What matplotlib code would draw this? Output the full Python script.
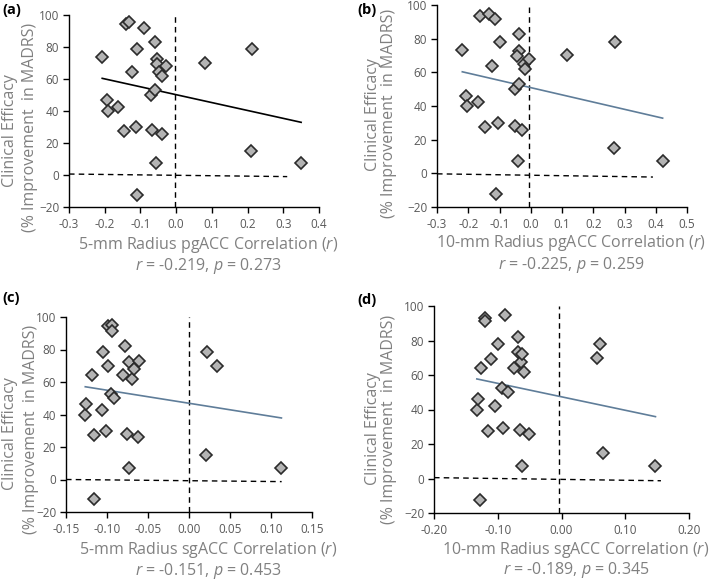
import numpy as np
import matplotlib
matplotlib.use("Agg")
from matplotlib import pyplot as plt

plt.rcParams['font.family'] = ['Open Sans', 'DejaVu Sans']
plt.rcParams['mathtext.fontset'] = 'custom'
plt.rcParams['mathtext.it'] = 'Open Sans:italic'
plt.rcParams['mathtext.rm'] = 'Open Sans'

# improvement in MADRS (%), same patients in every panel
y_a = [73.5, 46.8, 40.1, 42.4, 27.4, 94.2, 95.4, 64.1, 29.9, 78.5, -12.3, 91.7, 50.1, 28.2,
       82.9, 53.3, 7.3, 72.3, 69.6, 64.6, 61.8, 25.9, 68.3, 70.2, 78.5, 14.7, 7.3]
x_a = [-0.207, -0.194, -0.190, -0.162, -0.146, -0.140, -0.132, -0.124, -0.112, -0.110, -0.111,
       -0.091, -0.071, -0.067, -0.060, -0.058, -0.056, -0.055, -0.055, -0.047, -0.041, -0.041,
       -0.029, 0.082, 0.211, 0.209, 0.350]

x_b = [-0.219, -0.206, -0.204, -0.168, -0.148, -0.161, -0.133, -0.113, -0.123, -0.100, -0.105,
       -0.110, -0.052, -0.052, -0.039, -0.039, -0.043, -0.037, -0.041, -0.029, -0.023, -0.020,
       -0.007, 0.117, 0.270, 0.267, 0.422]
y_b = [73.3, 46.1, 40.0, 42.2, 27.3, 93.7, 94.7, 91.5, 63.8, 78.0, 29.7, -12.3, 50.1, 27.9,
       82.6, 72.5, 69.7, 52.9, 7.1, 25.7, 65.0, 62.0, 67.7, 70.1, 78.2, 15.2, 7.1]

x_c = [-0.1265, -0.1256, -0.1187, -0.1159, -0.1155, -0.1062, -0.1045, -0.1013, -0.0984, -0.0988,
       -0.0944, -0.0936, -0.0952, -0.0919, -0.0810, -0.0781, -0.0753, -0.0737, -0.0729, -0.0700,
       -0.0672, -0.0623, -0.0611, 0.0217, 0.0347, 0.0209, 0.1127]
y_c = [40.0, 46.2, 64.2, 27.4, -12.3, 42.5, 78.5, 29.9, 69.6, 94.2, 95.2, 91.3, 52.6, 49.9,
       64.6, 82.4, 28.0, 72.3, 6.9, 61.9, 68.1, 25.9, 73.1, 78.3, 70.0, 14.8, 6.9]

x_d = [-0.1328, -0.1313, -0.1266, -0.1281, -0.1198, -0.1193, -0.1156, -0.1099, -0.1042, -0.0990,
       -0.0927, -0.0917, -0.0880, -0.0839, -0.0745, -0.0677, -0.0677, -0.0651, -0.0641, -0.0615,
       -0.0620, -0.0589, -0.0505, 0.0557, 0.0599, 0.0646, 0.1474]
y_d = [40.0, 46.0, 63.8, -12.3, 92.8, 91.3, 27.4, 69.4, 42.3, 78.1, 52.4, 29.5, 94.8, 50.1,
       64.2, 82.0, 73.3, 28.0, 67.7, 72.3, 7.1, 61.9, 25.9, 70.0, 78.1, 15.0, 7.1]

labels = ["(a)", "(b)", "(c)", "(d)"]
xlabels = ["5-mm Radius pgACC Correlation ($\\it{r}$)", "10-mm Radius pgACC Correlation ($\\it{r}$)",
           "5-mm Radius sgACC Correlation ($\\it{r}$)", "10-mm Radius sgACC Correlation ($\\it{r}$)"]
stats = ["$\\it{r}$ = -0.219, $\\it{p}$ = 0.273", "$\\it{r}$ = -0.225, $\\it{p}$ = 0.259",
         "$\\it{r}$ = -0.151, $\\it{p}$ = 0.453", "$\\it{r}$ = -0.189, $\\it{p}$ = 0.345"]
xticks_list = [[-0.3, -0.2, -0.1, 0.0, 0.1, 0.2, 0.3, 0.4],
               [-0.3, -0.2, -0.1, 0.0, 0.1, 0.2, 0.3, 0.4, 0.5],
               [-0.15, -0.10, -0.05, 0.00, 0.05, 0.10, 0.15],
               [-0.20, -0.10, 0.00, 0.10, 0.20]]
xfmt = ["{:.1f}", "{:.1f}", "{:.2f}", "{:.2f}"]
yticks = [-20, 0, 20, 40, 60, 80, 100]
# dashed reference lines: vertical x, horizontal end x, horizontal y at start/end
vline_x = [-0.004, -0.006, -0.0006, -0.0036]
hline_end = [0.311, 0.391, 0.113, 0.156]
hline_y = [(0.6, -1.0), (-0.3, -2.2), (0.0, -1.3), (0.5, -1.3)]
fit_color = ["black", "#5f7d99", "#5f7d99", "#5f7d99"]

W, H = 709, 581
# axes boxes in pixels: left, right, top, bottom
boxes = [(69, 319, 15, 207), (437, 687, 5, 207), (66, 312, 317, 512), (434, 689, 306, 513)]
label_pos = [(2, 10), (357, 10), (2, 298), (357, 300)]
xlab_pos = [(208, 245, 266), (571, 243, 265), (208, 550, 571), (576, 550, 570)]
ylab_pos = [(10, 131, 30, 127), (373, 115, 389, 113), (10, 434, 31, 429), (373, 429, 389, 419)]

xs = [x_a, x_b, x_c, x_d]
ys = [y_a, y_b, y_c, y_d]

gray = "#808080"
fig = plt.figure(figsize=(W / 100, H / 100), dpi=100)

for i in range(4):
    l, r, t, b = boxes[i]
    ax = fig.add_axes([l / W, 1 - b / H, (r - l) / W, (b - t) / H])
    x = np.array(xs[i])
    y = np.array(ys[i])
    ticks = xticks_list[i]
    ax.set_xlim(ticks[0], ticks[-1])
    ax.set_ylim(-20, 100)

    # reference lines
    ax.plot([vline_x[i], vline_x[i]], [-20, 100], ls=(0, (4, 3)), color="black", lw=1)
    ax.plot([ticks[0], hline_end[i]], list(hline_y[i]), ls=(0, (4, 3)), color="black", lw=1)

    # linear fit
    k, c0 = np.polyfit(x, y, 1)
    fx = np.array([x.min(), x.max()])
    ax.plot(fx, k * fx + c0, color=fit_color[i], lw=1.2)

    ax.plot(x, y, ls="none", marker="D", markersize=6.5, markerfacecolor="#b4b4b4",
            markeredgecolor="#2b2b2b", markeredgewidth=1.2, zorder=5)

    ax.set_xticks(ticks)
    ax.set_xticklabels([xfmt[i].format(v) for v in ticks])
    ax.set_yticks(yticks)
    for s in ["top", "right"]:
        ax.spines[s].set_visible(False)
    for s in ["left", "bottom"]:
        ax.spines[s].set_color("black")
        ax.spines[s].set_linewidth(1.0)
    ax.tick_params(direction="out", length=4, width=1, colors="black", labelcolor="#595959",
                   labelsize=8.5)
    ax.tick_params(axis="x", pad=4)
    ax.tick_params(axis="y", pad=3)

    fig.text(label_pos[i][0] / W, 1 - label_pos[i][1] / H, labels[i], fontsize=10.5,
             fontweight="bold", va="center", ha="left")
    xc, y1, y2 = xlab_pos[i]
    fig.text(xc / W, 1 - y1 / H, xlabels[i], fontsize=11.5, color=gray, ha="center", va="center")
    fig.text(xc / W, 1 - y2 / H, stats[i], fontsize=11.5, color=gray, ha="center", va="center")
    x1, c1, x2, c2 = ylab_pos[i]
    fig.text(x1 / W, 1 - c1 / H, "Clinical Efficacy", fontsize=11.5, color=gray, rotation=90,
             ha="center", va="center")
    fig.text(x2 / W, 1 - c2 / H, "(% Improvement  in MADRS)", fontsize=11.5, color=gray,
             rotation=90, ha="center", va="center")

fig.savefig("out.png", dpi=100)
